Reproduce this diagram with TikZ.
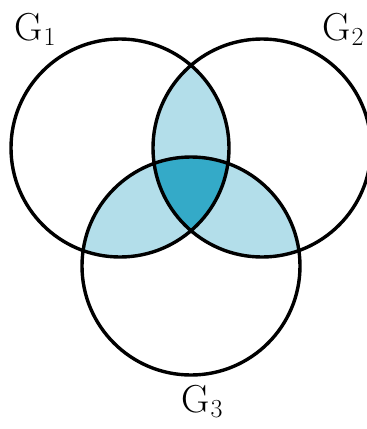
\documentclass[tikz,border=0pt]{standalone}
\definecolor{lightblue}{RGB}{179,222,234}
\definecolor{darkblue}{RGB}{52,170,200}
\tikzset{
  setline/.style={draw=black, line width=3.4pt},
  setlabel/.style={anchor=base west, inner sep=0pt, font=\fontsize{39}{42}\selectfont},
}
\newcommand{\setname}[1]{G\kern1pt\raisebox{-5pt}{\fontsize{26}{26}\selectfont #1}}
\begin{document}
\begin{tikzpicture}[x=1pt,y=-1pt]
\useasboundingbox (0,0) rectangle (367,429);
\clip (0,0) rectangle (367,429);
\coordinate (c1) at (120,148);
\coordinate (c2) at (262,148);
\coordinate (c3) at (191,266);
\def\r{109pt}
\begin{scope}
  \clip (c1) circle[radius=\r];
  \fill[lightblue] (c2) circle[radius=\r];
  \fill[lightblue] (c3) circle[radius=\r];
\end{scope}
\begin{scope}
  \clip (c2) circle[radius=\r];
  \fill[lightblue] (c3) circle[radius=\r];
\end{scope}
\begin{scope}
  \clip (c1) circle[radius=\r];
  \clip (c2) circle[radius=\r];
  \fill[darkblue] (c3) circle[radius=\r];
\end{scope}
\draw[setline] (c1) circle[radius=\r];
\draw[setline] (c2) circle[radius=\r];
\draw[setline] (c3) circle[radius=\r];
\node[setlabel] (g1) at (14,40) {\setname{1}};
\node[setlabel] (g2) at (322,40) {\setname{2}};
\node[setlabel] (g3) at (181,412) {\setname{3}};
\end{tikzpicture}
\end{document}
